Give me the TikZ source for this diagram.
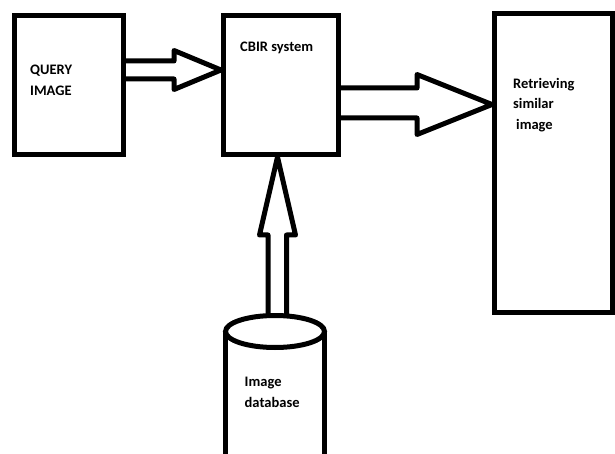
\documentclass[tikz,border=0pt]{standalone}
\usepackage{fontspec}
\setmainfont{Carlito}
\usepackage{tikz}
\tikzset{
  box/.style={draw, line width=5pt, inner sep=0pt},
  tag/.style={font=\bfseries\fontsize{14.5}{20.5}\selectfont, align=left, anchor=north west, inner sep=0pt},
  blockarrow/.style={draw, line width=5pt, line join=round}
}

\begin{document}
\begin{tikzpicture}[x=1pt, y=-1pt] % 1pt = 1px, y downwards
  \clip (0,0) rectangle (615,454); % page size
  \node[box, minimum width=109pt, minimum height=139pt] (query) at (69,85) {}; % input box
  \node[box, minimum width=114.5pt, minimum height=139pt] (cbir) at (280.75,85) {}; % system box
  \node[box, minimum width=118pt, minimum height=299pt] (result) at (553.5,163) {}; % output box

  \node[tag] (querytext) at (30,65) {QUERY\\IMAGE};
  \node[tag] (cbirtext) at (240,42) {CBIR system};
  \node[tag] (resulttext) at (513,78) {Retrieving\\similar\\\hspace*{3pt}image};

  % database cylinder, bottom runs off the page
  \coordinate (db) at (275,331.5);
  \draw[line width=5pt] (db) ellipse [x radius=49.5, y radius=16];
  \draw[line width=5pt] (225.5,331.5) -- (225.5,470);
  \draw[line width=5pt] (324.5,331.5) -- (324.5,470);
  \node[tag] (dbtext) at (244.5,377) {Image\\database};

  % hollow arrows
  \draw[blockarrow] (query.east |- 0,61) -- (174,61) -- (174,50.5) -- (cbir.west |- 0,70)
    -- (174,89.5) -- (174,79) -- (query.east |- 0,79);
  \draw[blockarrow] (cbir.east |- 0,88) -- (417,88) -- (417,74.5) -- (result.west |- 0,104.5)
    -- (417,134.5) -- (417,118) -- (cbir.east |- 0,118);
  \draw[blockarrow] (268,315.5) -- (268,235) -- (259.5,235) -- (277.5,0 |- cbir.south)
    -- (295.5,235) -- (286.5,235) -- (286.5,315.5);
\end{tikzpicture}
\end{document}
